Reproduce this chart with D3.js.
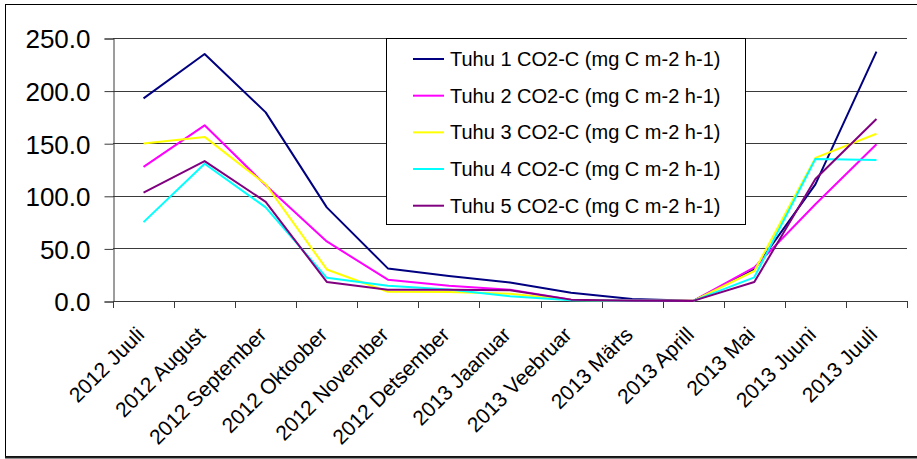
<!DOCTYPE html>
<html>
<head>
<meta charset="utf-8">
<script src="https://cdn.jsdelivr.net/npm/d3@7/dist/d3.min.js"></script>
<style>
  html, body { margin: 0; padding: 0; background: #fff; }
  svg { display: block; font-family: "Liberation Sans", Arial, sans-serif; }
</style>
</head>
<body>
<svg id="chart" width="917" height="459"></svg>
<script>
const categories = ["2012 Juuli", "2012 August", "2012 September", "2012 Oktoober", "2012 November",
  "2012 Detsember", "2013 Jaanuar", "2013 Veebruar", "2013 Märts", "2013 Aprill", "2013 Mai",
  "2013 Juuni", "2013 Juuli"];

const tuhu1 = [192.6, 234.8, 179.3, 89.0, 31.0, 23.8, 17.5, 7.8, 1.9, 0.2, 30.0, 110.8, 237.0];
const tuhu2 = [127.5, 167.0, 110.0, 56.6, 20.3, 14.5, 10.8, 1.3, 0.5, 0.2, 32.0, 92.0, 149.0];
const tuhu3 = [149.8, 156.0, 111.0, 30.0, 8.8, 8.6, 7.0, 1.0, 0.3, 0.2, 28.5, 136.0, 159.0];
const tuhu4 = [75.0, 130.5, 89.0, 22.0, 14.5, 11.0, 4.5, 0.8, 0.3, 0.1, 22.5, 135.0, 134.0];
const tuhu5 = [103.0, 133.0, 94.3, 18.1, 10.8, 10.8, 10.2, 1.3, 0.3, 0.1, 18.0, 116.0, 173.0];

const seriesNames = ["Tuhu 1 CO2-C (mg C m-2 h-1)", "Tuhu 2 CO2-C (mg C m-2 h-1)",
  "Tuhu 3 CO2-C (mg C m-2 h-1)", "Tuhu 4 CO2-C (mg C m-2 h-1)", "Tuhu 5 CO2-C (mg C m-2 h-1)"];
const seriesColors = ["#000080", "#FF00FF", "#FFFF00", "#00FFFF", "#800080"];
const yTicks = [0, 50, 100, 150, 200, 250];

(function () {
const series = [tuhu1, tuhu2, tuhu3, tuhu4, tuhu5].map((v, i) => ({
  name: seriesNames[i], color: seriesColors[i], values: v
}));

const svg = d3.select("#chart");
const mLeft = 113, mRight = 907, mTop = 38, mBottom = 301;

// outer frame
svg.append("rect").attr("x", 5.5).attr("y", 4.5).attr("width", 930).attr("height", 452)
  .attr("fill", "#fff").attr("stroke", "#000").attr("stroke-width", 1);
svg.append("line").attr("x1", 5).attr("x2", 917).attr("y1", 457.5).attr("y2", 457.5)
  .attr("stroke", "#222").attr("stroke-width", 2);

const xBand = d3.scaleBand().domain(categories).range([mLeft, mRight]);
const xPoint = d3.scalePoint().domain(categories).range([mLeft, mRight]).padding(0.5);
const y = d3.scaleLinear().domain([0, 250]).range([mBottom, mTop]);

// gridlines
svg.append("g").selectAll("line").data(yTicks.filter(d => d > 0)).join("line")
  .attr("x1", mLeft).attr("x2", mRight)
  .attr("y1", d => Math.round(y(d)) + 0.5).attr("y2", d => Math.round(y(d)) + 0.5)
  .attr("stroke", "#3a3a3a").attr("stroke-width", 1);

// y axis
const yAxis = d3.axisLeft(y).tickValues(yTicks).tickFormat(d3.format(".1f"))
  .tickSize(9).tickPadding(14);
const yG = svg.append("g").attr("transform", `translate(${mLeft + 0.5},0.5)`).call(yAxis);
yG.select(".domain").attr("stroke", "#3a3a3a");
yG.selectAll(".tick line").attr("stroke", "#3a3a3a");
yG.selectAll(".tick text").attr("font-size", 26).attr("fill", "#000")
  .attr("font-family", "'Liberation Sans', Arial, sans-serif").attr("dy", "0.36em");

// x axis baseline and ticks at category boundaries
svg.append("line").attr("x1", mLeft).attr("x2", mRight)
  .attr("y1", mBottom + 0.5).attr("y2", mBottom + 0.5).attr("stroke", "#3a3a3a");
const boundaries = categories.map(c => xBand(c)).concat([xBand.range()[1]]);
svg.append("g").selectAll("line").data(boundaries).join("line")
  .attr("x1", d => Math.round(d) + 0.5).attr("x2", d => Math.round(d) + 0.5)
  .attr("y1", mBottom).attr("y2", mBottom + 7).attr("stroke", "#3a3a3a");

// x labels
svg.append("g").selectAll("text").data(categories).join("text")
  .attr("transform", d => `translate(${xPoint(d) + 2},336) rotate(-45)`)
  .attr("text-anchor", "end").attr("font-size", 21).attr("fill", "#000")
  .text(d => d);

// lines
const line = d3.line().x((d, i) => xPoint(categories[i])).y(d => y(d));
svg.append("g").selectAll("path").data(series).join("path")
  .attr("d", s => line(s.values)).attr("fill", "none")
  .attr("stroke", s => s.color).attr("stroke-width", 2).attr("stroke-linejoin", "round");

// legend
const lg = svg.append("g");
lg.append("rect").attr("x", 386.5).attr("y", 38.5).attr("width", 359).attr("height", 186)
  .attr("fill", "#fff").attr("stroke", "#000").attr("stroke-width", 1);
const rowY = d3.scalePoint().domain(seriesNames).range([59, 205.7]);
const items = lg.selectAll("g.item").data(series).join("g").attr("class", "item")
  .attr("transform", s => `translate(0,${rowY(s.name)})`);
items.append("line").attr("x1", 413).attr("x2", 444).attr("y1", 0).attr("y2", 0)
  .attr("stroke", s => s.color).attr("stroke-width", 2);
items.append("text").attr("x", 450).attr("y", 0).attr("dy", "0.35em")
  .attr("font-size", 20).attr("fill", "#000").text(s => s.name);
})();
</script>
</body>
</html>
